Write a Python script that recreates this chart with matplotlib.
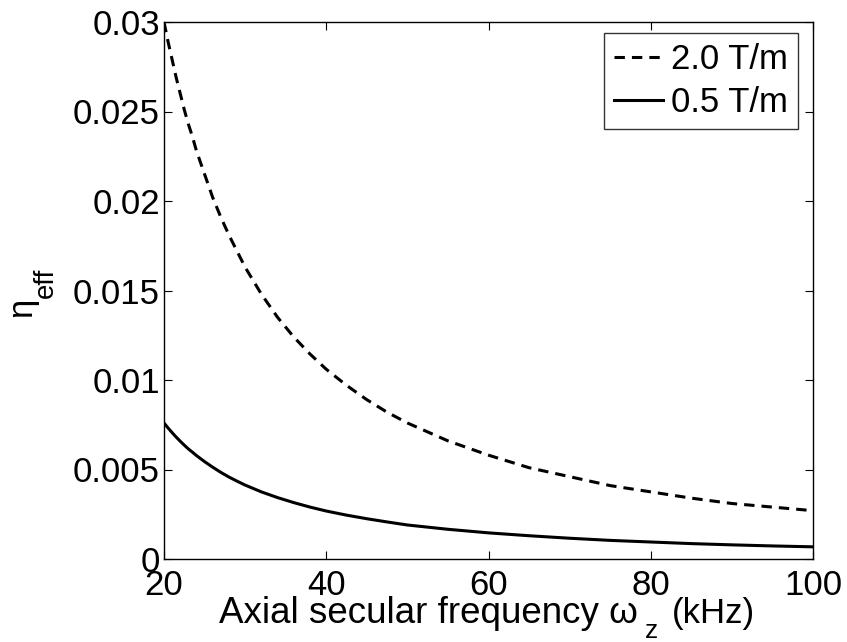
import matplotlib
matplotlib.use("Agg")
import matplotlib.pyplot as plt

plt.rcParams['font.family'] = ['Liberation Sans', 'DejaVu Sans']

freq_khz = [20, 20.5, 21, 21.5, 22, 22.5, 23, 23.5, 24, 25, 26, 27, 28, 29, 30,
            32, 34, 36, 38, 40, 42.5, 45, 47.5, 50, 55, 60, 65, 70, 75, 80, 85,
            90, 95, 100]
eta_2T = [0.0300, 0.0289, 0.0279, 0.0269, 0.0260, 0.0251, 0.0243, 0.0236, 0.0228,
          0.0215, 0.0202, 0.0191, 0.0181, 0.0172, 0.0163, 0.0148, 0.0135, 0.0124,
          0.01145, 0.0106, 0.0097, 0.0089, 0.0082, 0.0076, 0.0066, 0.0058, 0.0051,
          0.0046, 0.0041, 0.00375, 0.0034, 0.0031, 0.0029, 0.0027]
eta_05T = [0.0076, 0.00732, 0.00706, 0.00681, 0.00658, 0.00636, 0.00615, 0.00597,
           0.00578, 0.00544, 0.00513, 0.00484, 0.00458, 0.00435, 0.00413, 0.00375,
           0.00343, 0.00315, 0.0029, 0.00268, 0.00245, 0.00225, 0.00207, 0.0019,
           0.00166, 0.00146, 0.0013, 0.00116, 0.00104, 0.00095, 0.00086, 0.00079,
           0.00073, 0.00068]
labels = ['2.0 T/m', '0.5 T/m']
xticks = [20, 40, 60, 80, 100]
yticks = [0, 0.005, 0.01, 0.015, 0.02, 0.025, 0.03]
yticklabels = ['0', '0.005', '0.01', '0.015', '0.02', '0.025', '0.03']

W, H = 847, 642
fig = plt.figure(figsize=(W/100, H/100), dpi=100)
ax = fig.add_axes([164/W, 1 - 559/H, (813-164)/W, (559-22)/H])
ax.plot(freq_khz, eta_2T, color='black', lw=2.2, ls=(0, (3.4, 2.3)), label=labels[0])
ax.plot(freq_khz, eta_05T, color='black', lw=2.2, ls='-', label=labels[1])
ax.set_xlim(20, 100)
ax.set_ylim(0, 0.03)
ax.set_xticks(xticks)
ax.set_xticklabels([str(t) for t in xticks])
ax.set_yticks(yticks)
ax.set_yticklabels(yticklabels)
ax.tick_params(direction='in', top=True, right=True, length=6, width=0.8,
               labelsize=25)
ax.tick_params(axis='y', pad=3)
ax.tick_params(axis='x', pad=7)
for s in ax.spines.values():
    s.set_linewidth(1.0)

def ftext(px, py, s, size, **kw):
    fig.text(px / W, 1 - py / H, s, fontsize=size, **kw)

# x label pieces
ftext(219, 623, 'Axial secular frequency \u03c9', 26.5, ha='left', va='baseline')
ftext(645, 638, 'z', 19, ha='left', va='baseline')
ftext(672, 623, '(kHz)', 25, ha='left', va='baseline')

# y label pieces
ftext(31, 317, '\u03b7', 25, ha='left', va='baseline', rotation=90,
      rotation_mode='anchor')
ftext(53, 298, 'eff', 20, ha='left', va='baseline', rotation=90,
      rotation_mode='anchor')

leg = ax.legend(loc='upper right',
                bbox_to_anchor=((798-164)/(813-164), (559-33)/(559-22)),
                fontsize=25, frameon=True, fancybox=False,
                edgecolor='black', handlelength=1.4, handletextpad=0.25,
                borderpad=0.28, labelspacing=0.3, borderaxespad=0.0)
leg.get_frame().set_linewidth(1.0)

fig.savefig('out.png', dpi=100)
